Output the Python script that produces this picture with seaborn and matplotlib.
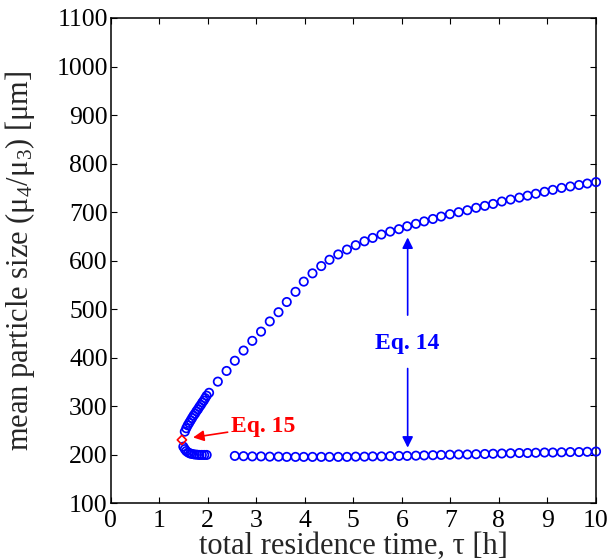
import numpy as np
import pandas as pd
import matplotlib
matplotlib.use("Agg")
import matplotlib.pyplot as plt
import seaborn as sns

# Upper (large-particle) branch of the steady-state solution, Eq. 14
tau_upper = [1.53, 1.56, 1.59, 1.62, 1.65, 1.68, 1.71, 1.74, 1.77, 1.80, 1.83,
             1.86, 1.89, 1.92, 1.95, 1.98,
             2.03, 2.21, 2.39, 2.56, 2.74, 2.92, 3.10, 3.28, 3.46, 3.63, 3.81,
             3.98, 4.16, 4.34, 4.51, 4.69, 4.87, 5.05, 5.23, 5.40, 5.58, 5.76,
             5.94, 6.11, 6.29, 6.46, 6.64, 6.81, 6.99, 7.17, 7.35, 7.53, 7.71,
             7.88, 8.06, 8.24, 8.42, 8.59, 8.76, 8.94, 9.11, 9.29, 9.47, 9.65,
             9.82, 10.00]
size_upper = [248, 255, 261, 266, 271, 276, 281, 285, 290, 294, 299,
              303, 308, 312, 317, 322,
              328, 351, 373, 394, 415, 435, 454, 475, 494, 515, 536,
              557, 574, 589, 602, 613, 623, 632, 640, 647, 654, 660,
              665, 671, 676, 681, 686, 691, 696, 700, 704, 709, 713,
              717, 722, 726, 730, 734, 738, 742, 746, 750, 753, 756,
              759, 762]

# Lower (small-particle) branch, Eq. 14
tau_lower = [1.50, 1.53, 1.56, 1.60, 1.64, 1.68, 1.73, 1.78, 1.83, 1.88, 1.93,
             1.98,
             2.56, 2.74, 2.92, 3.10, 3.28, 3.46, 3.63, 3.81, 3.98, 4.16, 4.34,
             4.51, 4.69, 4.87, 5.05, 5.23, 5.40, 5.58, 5.76, 5.94, 6.11, 6.29,
             6.46, 6.64, 6.81, 6.99, 7.17, 7.35, 7.53, 7.71, 7.88, 8.06, 8.24,
             8.42, 8.59, 8.76, 8.94, 9.11, 9.29, 9.47, 9.65, 9.82, 10.00]
size_lower = [217, 212, 208, 205, 203, 202, 201, 200.5, 200, 200, 200,
              200,
              198, 197.5, 197, 197, 196.5, 196.5, 196, 196, 196, 196, 196,
              196, 196, 196, 196.5, 196.5, 197, 197, 197.5, 198, 198, 198.5,
              199, 199.5, 200, 200.5, 201, 201, 201.5, 202, 202.5, 203, 203.5,
              204, 204, 204.5, 205, 205, 205.5, 206, 206, 206.5, 207]

# Turning point of the two branches, Eq. 15
tau_fold = [1.47]
size_fold = [231]

x_ticks = [0, 1, 2, 3, 4, 5, 6, 7, 8, 9, 10]
y_ticks = [100, 200, 300, 400, 500, 600, 700, 800, 900, 1000, 1100]

sns.set_style("ticks")
plt.rcParams["font.family"] = ["Liberation Serif", "DejaVu Serif"]
plt.rcParams["mathtext.fontset"] = "custom"
plt.rcParams["mathtext.rm"] = "Liberation Serif"
plt.rcParams["mathtext.it"] = "Liberation Serif:italic"
plt.rcParams["mathtext.bf"] = "Liberation Serif:bold"

fig = plt.figure(figsize=(6.11, 5.60), dpi=100)
ax = fig.add_axes([0.1809, 0.1009, 0.7946, 0.8670])

upper = pd.DataFrame({"tau": tau_upper, "size": size_upper})
lower = pd.DataFrame({"tau": tau_lower, "size": size_lower})
fold = pd.DataFrame({"tau": tau_fold, "size": size_fold})

for df in (upper, lower):
    sns.scatterplot(data=df, x="tau", y="size", ax=ax, marker="o", s=36,
                    facecolor="none", edgecolor="#0000ff", linewidth=1.25,
                    zorder=3, clip_on=False)
sns.scatterplot(data=fold, x="tau", y="size", ax=ax, marker="D", s=22,
                facecolor="none", edgecolor="#ff0000", linewidth=1.2, zorder=4)

ax.set_xlim(0, 10)
ax.set_ylim(100, 1100)
ax.set_xticks(x_ticks)
ax.set_yticks(y_ticks)
ax.tick_params(direction="in", length=4, width=0.8, top=True, right=True,
               labelsize=18.5, colors="black")
ax.tick_params(axis="x", pad=4.5)
ax.tick_params(axis="y", pad=2)
for sp in ax.spines.values():
    sp.set_visible(True)
    sp.set_linewidth(1.1)
    sp.set_color("black")

ax.set_xlabel(r"total residence time, τ [h]", fontsize=22)
ax.set_ylabel(r"mean particle size (μ$_4$/μ$_3$) [μm]", fontsize=22)
ax.xaxis.set_label_coords(0.5, -0.058)
ax.yaxis.set_label_coords(-0.152, 0.5)

# Eq. 15 label pointing at the turning point
ax.annotate("Eq. 15", xy=(1.70, 236), xytext=(2.48, 258),
            color="#ff0000", fontsize=17, fontweight="bold",
            va="center", ha="left",
            arrowprops=dict(arrowstyle="-|>", color="#ff0000", lw=1.2,
                            mutation_scale=16, shrinkA=0, shrinkB=0))

# Eq. 14 label with arrows to both branches
ax.text(6.12, 430, "Eq. 14", color="#0000ff", fontsize=17,
        fontweight="bold", ha="center", va="center")
ax.annotate("", xy=(6.12, 648), xytext=(6.12, 488),
            arrowprops=dict(arrowstyle="-|>", color="#0000ff", lw=1.2,
                            mutation_scale=16, shrinkA=0, shrinkB=0))
ax.annotate("", xy=(6.12, 215), xytext=(6.12, 378),
            arrowprops=dict(arrowstyle="-|>", color="#0000ff", lw=1.2,
                            mutation_scale=16, shrinkA=0, shrinkB=0))

fig.savefig("out.png", dpi=100)
